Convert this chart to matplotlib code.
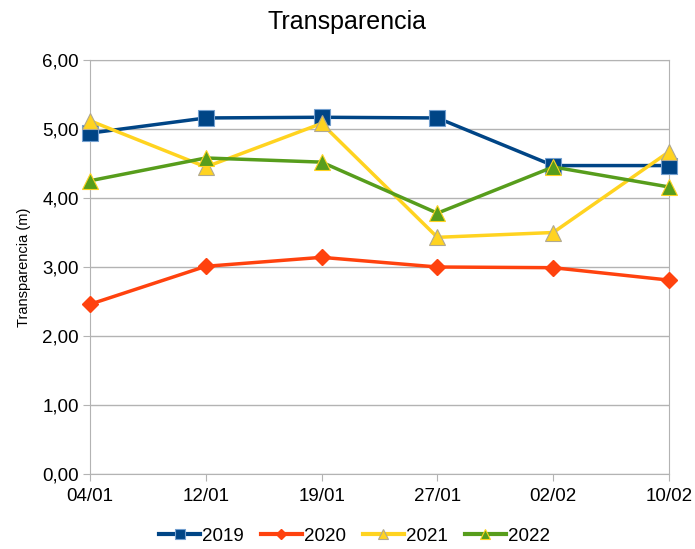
import numpy as np
import matplotlib.pyplot as plt
from matplotlib.ticker import FuncFormatter

plt.rcParams['font.family'] = ['Liberation Sans', 'DejaVu Sans']

fechas = ['04/01', '12/01', '19/01', '27/01', '02/02', '10/02']
v2019 = [4.94, 5.16, 5.17, 5.16, 4.47, 4.47]
v2020 = [2.46, 3.01, 3.14, 3.00, 2.99, 2.81]
v2021 = [5.12, 4.45, 5.08, 3.43, 3.50, 4.67]
v2022 = [4.25, 4.58, 4.52, 3.78, 4.45, 4.16]

fig = plt.figure(figsize=(6.95, 5.49), dpi=100)
ax = fig.add_axes([90/695, 1-474/549, 579/695, 414/549])

x = np.arange(len(fechas))
ax.plot(x, v2019, color='#004586', lw=2.5, marker='s', ms=11, mfc='#004586', mec='#729fcf', mew=0.8, label='2019', clip_on=False, zorder=3)
ax.plot(x, v2020, color='#ff420e', lw=2.5, marker='D', ms=8.5, mfc='#ff420e', mec='#ff420e', label='2020', clip_on=False, zorder=3)
ax.plot(x, v2021, color='#ffd320', lw=2.5, marker='^', ms=12, mfc='#ffd320', mec='#b0a890', mew=0.8, label='2021', clip_on=False, zorder=3)
ax.plot(x, v2022, color='#579d1c', lw=2.5, marker='^', ms=12, mfc='#579d1c', mec='#ffd320', mew=0.8, label='2022', clip_on=False, zorder=3)

ax.set_xlim(0, len(fechas)-1)
ax.set_ylim(0, 6)
ax.set_xticks(x)
ax.set_xticklabels(fechas, fontsize=13.5)
ax.set_yticks(np.arange(0, 7, 1))
ax.yaxis.set_major_formatter(FuncFormatter(lambda v, p: f'{v:.2f}'.replace('.', ',')))
ax.tick_params(axis='y', labelsize=13.5, length=5, color='#b3b3b3', pad=3)
ax.tick_params(axis='x', length=5, color='#b3b3b3', pad=5)
ax.grid(axis='y', color='#b3b3b3', lw=1)
ax.set_axisbelow(True)
for s in ax.spines.values():
    s.set_color('#b3b3b3')
ax.set_ylabel('Transparencia (m)', fontsize=10.5, labelpad=8)
fig.text(0.5, 1-22/549, 'Transparencia', ha='center', va='center', fontsize=18)

leg = fig.legend(loc='center', bbox_to_anchor=(0.51, 1-536/549), ncol=4, frameon=False,
                 fontsize=13.5, handlelength=2.2, columnspacing=0.9, handletextpad=0.1,
                 markerscale=0.6)
for h in leg.get_lines():
    h.set_linewidth(3)

fig.savefig('out.png', dpi=100)
